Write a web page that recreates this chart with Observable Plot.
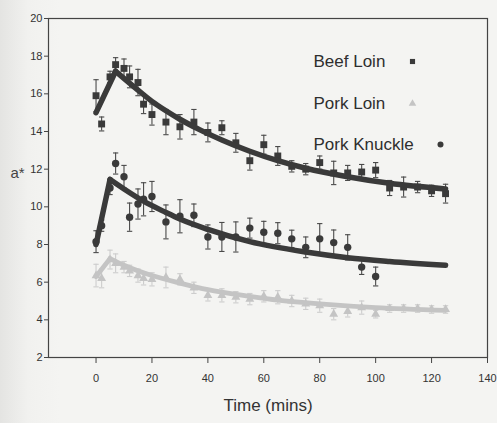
<!DOCTYPE html>
<html><head><meta charset="utf-8">
<script src="https://cdn.jsdelivr.net/npm/d3@7"></script>
<script src="https://cdn.jsdelivr.net/npm/@observablehq/plot@0.6"></script>
<style>
body{margin:0;background:linear-gradient(to right,#e4e4e2 0px,#f1f1ef 28px,#f4f4f2 60px);}
#chart{width:497px;height:423px;}
</style>
</head><body><div id="chart"></div>
<script>
// ---- data ----
const seriesNames = ["Beef Loin", "Pork Loin", "Pork Knuckle"];
const times = [0,2,5,7,10,12,15,17,20,25,30,35,40,45,50,55,60,65,70,75,80,85,90,95,100,105,110,115,120,125];
const knuckleTimes = [0,2,5,7,10,12,15,17,20,25,30,35,40,45,50,55,60,65,70,75,80,85,90,95,100];

const beefValues = [15.9,14.4,16.9,17.55,17.35,16.9,16.6,15.45,14.9,14.5,14.25,14.5,13.95,14.2,13.4,12.45,13.3,12.7,12.15,12.0,12.35,11.8,11.8,11.85,11.95,11.0,11.05,11.05,10.85,10.7];
const beefErrors = [0.85,0.37,0.3,0.37,0.5,0.58,0.7,0.5,0.56,0.67,0.65,0.67,0.5,0.37,0.5,0.5,0.5,0.5,0.3,0.3,0.35,0.62,0.4,0.4,0.4,0.4,0.53,0.3,0.3,0.5];

const loinValues = [6.35,6.2,7.2,7.0,6.8,6.6,6.35,6.2,6.15,6.25,6.15,5.7,5.3,5.3,5.2,5.1,5.25,5.2,5.0,4.85,4.75,4.3,4.45,4.65,4.3,4.6,4.6,4.6,4.55,4.55];
const loinErrors = [0.6,0.5,0.5,0.5,0.3,0.3,0.35,0.35,0.35,0.55,0.3,0.3,0.3,0.35,0.3,0.3,0.3,0.35,0.3,0.3,0.35,0.3,0.3,0.35,0.2,0.2,0.2,0.2,0.2,0.2];

const knuckleValues = [8.15,9.0,11.0,12.3,11.6,9.45,10.15,10.4,10.55,9.2,9.5,9.55,8.4,8.4,8.4,8.87,8.65,8.6,8.3,7.85,8.3,8.1,7.85,6.8,6.3];
const knuckleErrors = [0.58,0.3,0.35,0.56,0.6,0.75,0.8,0.88,0.8,0.9,0.88,0.6,0.64,0.77,0.8,0.53,0.58,0.56,0.46,0.55,0.81,0.67,0.67,0.39,0.5];

// fitted curves (first point = start, second = peak, rest = decay)
const beefFitTimes = [0,7,15,20,25,30,37,45,55,65,75,90,105,125];
const beefFitValues = [15.0,17.2,16.2,15.6,15.1,14.65,14.1,13.55,12.95,12.45,12.05,11.6,11.25,10.95];
const knuckleFitTimes = [0,5,10,17,25,30,40,55,75,90,105,125];
const knuckleFitValues = [8.0,11.45,10.95,10.3,9.7,9.35,8.8,8.15,7.6,7.3,7.1,6.9];
const loinFitTimes = [0,5,10,20,30,40,55,65,80,100,125];
const loinFitValues = [6.3,7.25,6.9,6.35,5.95,5.6,5.25,5.05,4.85,4.65,4.5];

const xTicks = [0,20,40,60,80,100,120,140];
const yTicks = [2,4,6,8,10,12,14,16,18,20];
const xTitle = "Time (mins)";
const yTitle = "a*";

// ---- build tables ----
const rows = (ts, vs, es) => ts.map((t, i) => ({t, v: vs[i], e: es[i]}));
const fitRows = (ts, vs) => ts.flatMap((t, i) => {
  const out = [];
  if (i <= 1) out.push({t, v: vs[i], seg: "rise"});
  if (i >= 1) out.push({t, v: vs[i], seg: "decay"});
  return out;
});
const beef = rows(times, beefValues, beefErrors);
const loin = rows(times, loinValues, loinErrors);
const knuckle = rows(knuckleTimes, knuckleValues, knuckleErrors);

const capSymbol = {draw(ctx, size) { const w = Math.sqrt(size) / 2; ctx.moveTo(-w, 0); ctx.lineTo(w, 0); }};

const dark = "#3a3a3a", light = "#c4c4c4";
const styles = {
  "Beef Loin":   {data: beef, fit: fitRows(beefFitTimes, beefFitValues), color: dark, bar: "#4a4a4a", symbol: "square", r: 3.9, lr: 2.9, lw: 5.5},
  "Pork Loin":   {data: loin, fit: fitRows(loinFitTimes, loinFitValues), color: light, bar: "#cdcdcd", symbol: "triangle", r: 3.3, lr: 2.8, lw: 4.8},
  "Pork Knuckle":{data: knuckle, fit: fitRows(knuckleFitTimes, knuckleFitValues), color: dark, bar: "#4a4a4a", symbol: "circle", r: 3.7, lr: 3.0, lw: 5.5}
};
const drawOrder = ["Pork Loin", "Pork Knuckle", "Beef Loin"];

const marks = [
  Plot.frame({stroke: "#444", strokeWidth: 1.2}),
  Plot.axisX({ticks: xTicks, tickSize: 6, tickPadding: 11, fontSize: 11, label: null, stroke: "#444", fill: "#333"}),
  Plot.axisY({ticks: yTicks, tickSize: 4, tickPadding: 2, fontSize: 11, label: null, stroke: "#444", fill: "#333"}),
  Plot.text([xTitle], {frameAnchor: "bottom", dy: 53, text: d => d, fontSize: 17, fill: "#333"}),
  Plot.text([yTitle], {frameAnchor: "top-left", dx: -31, dy: 155, text: d => d, textAnchor: "middle", lineAnchor: "middle", fontSize: 15, fill: "#444"})
];
for (const name of drawOrder) {
  const s = styles[name];
  marks.push(
    Plot.ruleX(s.data, {x: "t", y1: d => d.v - d.e, y2: d => d.v + d.e, stroke: s.bar, strokeWidth: 1.1}),
    Plot.dot(s.data, {x: "t", y: d => d.v + d.e, symbol: capSymbol, r: 3, stroke: s.bar, strokeWidth: 1.1, fill: "none"}),
    Plot.dot(s.data, {x: "t", y: d => d.v - d.e, symbol: capSymbol, r: 3, stroke: s.bar, strokeWidth: 1.1, fill: "none"}),
    Plot.dot(s.data, {x: "t", y: "v", symbol: s.symbol, r: s.r, fill: s.color, stroke: "none"})
  );
}
for (const name of drawOrder) {
  const s = styles[name];
  marks.push(Plot.line(s.fit, {x: "t", y: "v", z: "seg", stroke: s.color, strokeWidth: s.lw, curve: "monotone-x", strokeLinecap: "round", strokeLinejoin: "round"}));
}
// legend
const legendPos = {"Beef Loin": [265, 43, 364], "Pork Loin": [265, 85, 364], "Pork Knuckle": [265, 126, 392]};
for (const name of seriesNames) {
  const s = styles[name];
  const [tx, ty, sx] = legendPos[name];
  marks.push(
    Plot.text([name], {frameAnchor: "top-left", dx: tx, dy: ty, text: d => d, textAnchor: "start", lineAnchor: "middle", fontSize: 17, fill: "#2e2e2e"}),
    Plot.dot([name], {frameAnchor: "top-left", dx: sx, dy: ty, symbol: s.symbol, r: s.lr, fill: s.color})
  );
}

const chart = Plot.plot({
  width: 497, height: 423,
  marginTop: 18, marginBottom: 66, marginLeft: 48, marginRight: 10,
  style: {background: "transparent", fontFamily: "'Liberation Sans', Arial, sans-serif", color: "#333"},
  x: {domain: [-17, 140], label: null},
  y: {domain: [2, 20], label: null},
  marks
});
document.getElementById("chart").appendChild(chart);
</script>
</body></html>
